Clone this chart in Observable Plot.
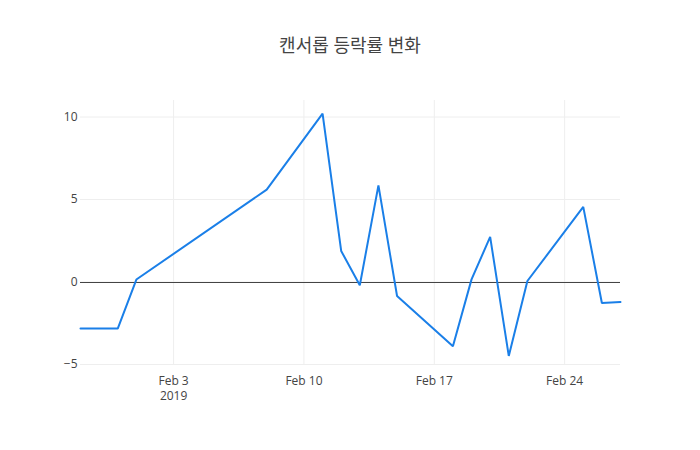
<!DOCTYPE html>
<html>
<head>
<meta charset="utf-8">
<script src="https://cdn.jsdelivr.net/npm/d3@7"></script>
<script src="https://cdn.jsdelivr.net/npm/@observablehq/plot@0.6"></script>
<style>
  html, body { margin: 0; padding: 0; background: #fff; }
  #wrap { position: relative; width: 700px; height: 450px; }
  #title { position: absolute; left: 0; top: 31px; width: 700px; text-align: center;
    font-family: "Open Sans", "Noto Sans CJK KR", sans-serif; font-size: 18px; color: #444; }
</style>
</head>
<body>
<div id="wrap">
  <div id="title">캔서롭 등락률 변화</div>
  <div id="chart"></div>
</div>
<script>
const dates = ["2019-01-29","2019-01-31","2019-02-01","2019-02-08","2019-02-11","2019-02-12","2019-02-13","2019-02-14","2019-02-15","2019-02-18","2019-02-19","2019-02-20","2019-02-21","2019-02-22","2019-02-25","2019-02-26","2019-02-27"];
const changes = [-2.82, -2.82, 0.15, 5.6, 10.2, 1.88, -0.2, 5.86, -0.85, -3.9, 0.16, 2.73, -4.48, 0.06, 4.55, -1.27, -1.21];
const xTicks = ["2019-02-03","2019-02-10","2019-02-17","2019-02-24"];
const xTickLabels = ["Feb 3\n2019","Feb 10","Feb 17","Feb 24"];
const yTicks = [-5, 0, 5, 10];

const data = dates.map((d, i) => ({date: new Date(d + "T00:00:00Z"), value: changes[i]}));
const xt = xTicks.map(d => new Date(d + "T00:00:00Z"));

const chart = Plot.plot({
  width: 700,
  height: 450,
  marginLeft: 80,
  marginRight: 80,
  marginTop: 100,
  marginBottom: 86,
  style: {fontFamily: "'Open Sans', sans-serif", fontSize: "12px", color: "#444", background: "#fff"},
  x: {type: "utc", domain: [new Date("2019-01-29T00:00:00Z"), new Date("2019-02-27T00:00:00Z")]},
  y: {domain: [-5, 11]},
  marks: [
    Plot.gridX(xt, {stroke: "#eee", strokeOpacity: 1}),
    Plot.gridY(yTicks, {stroke: "#eee", strokeOpacity: 1}),
    Plot.ruleY([0], {stroke: "#444", strokeWidth: 1, shapeRendering: "crispEdges"}),
    Plot.line(data, {x: "date", y: "value", stroke: "#1a7fe8", strokeWidth: 2, strokeLinejoin: "miter"}),
    Plot.axisX(xt, {tickSize: 0, tickPadding: 9, fontSize: 12, fill: "#444", label: null, lineHeight: 1.3,
      tickFormat: (d) => xTickLabels[xt.findIndex(t => +t === +d)]}),
    Plot.axisY(yTicks, {tickSize: 0, tickPadding: 3, fontSize: 12, fill: "#444", label: null,
      tickFormat: (d) => String(d).replace("-", "\u2212")})
  ]
});
document.getElementById("chart").appendChild(chart);
</script>
</body>
</html>
